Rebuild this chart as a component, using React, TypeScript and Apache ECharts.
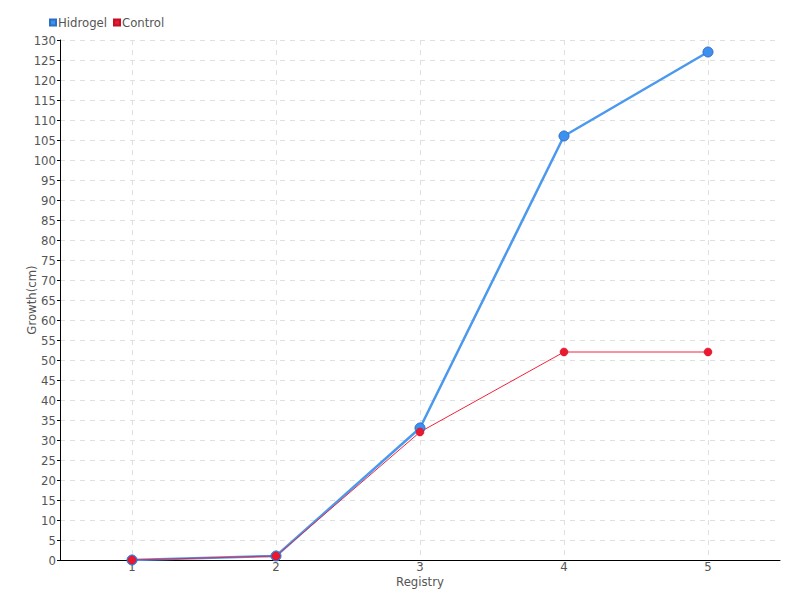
import React, { useEffect, useRef } from "react";
import * as echarts from "echarts";

const categories = ["1", "2", "3", "4", "5"];
const hidrogel = [0, 1, 33, 106, 127];
const control = [0, 1, 32, 52, 52];

const FONT = "'DejaVu Sans Condensed', sans-serif";
const TXT = "#555";

export default function App() {
  const ref = useRef<HTMLDivElement>(null);
  useEffect(() => {
    const chart = echarts.init(ref.current!, null, { renderer: "svg" });
    chart.setOption({
      animation: false,
      textStyle: { fontFamily: FONT },
      legend: {
        left: 44,
        top: 11,
        itemWidth: 6,
        itemHeight: 6,
        itemGap: 6,
        icon: "rect",
        textStyle: { fontFamily: FONT, fontSize: 13, color: TXT, padding: [0, 0, 0, -3] },
        data: ["Hidrogel", "Control"],
      },
      grid: { left: 60, right: 20, top: 40, bottom: 40, containLabel: false },
      xAxis: {
        type: "category",
        data: categories,
        boundaryGap: true,
        name: "Registry",
        nameLocation: "middle",
        nameGap: 21,
        nameMoveOverlap: false,
        nameTextStyle: { fontFamily: FONT, fontSize: 13, color: TXT, verticalAlign: "middle" },
        axisLine: { lineStyle: { color: "#000", width: 1 } },
        axisTick: { alignWithLabel: true, length: 4, lineStyle: { color: "#000" } },
        axisLabel: { fontFamily: FONT, fontSize: 13, color: TXT, margin: 0 },
        splitLine: { show: true, alignWithLabel: true, lineStyle: { color: "#e0e0e0", type: [5, 5] } },
      },
      yAxis: {
        type: "value",
        min: 0,
        max: 130,
        interval: 5,
        name: "Growth(cm)",
        nameLocation: "middle",
        nameGap: 29,
        nameMoveOverlap: false,
        nameTextStyle: { fontFamily: FONT, fontSize: 13, color: TXT, verticalAlign: "middle" },
        axisLine: { show: true, lineStyle: { color: "#000", width: 1 } },
        axisTick: { show: true, length: 3, lineStyle: { color: "#000" } },
        axisLabel: { fontFamily: FONT, fontSize: 13, color: TXT, margin: 4 },
        splitLine: { show: true, lineStyle: { color: "#e0e0e0", type: [5, 5] } },
      },
      series: [
        {
          name: "Hidrogel",
          type: "line",
          data: hidrogel,
          symbol: "circle",
          symbolSize: 10,
          color: "#3d8ff0",
          lineStyle: { width: 2.5, color: "#4a99ef" },
          itemStyle: { color: "#3d8ff0", borderColor: "#2b6fc4", borderWidth: 1 },
        },
        {
          name: "Control",
          type: "line",
          data: control,
          symbol: "circle",
          symbolSize: 8,
          color: "#ee1730",
          lineStyle: { width: 1, color: "#f0243c" },
          itemStyle: { color: "#ee1730", borderColor: "#c01025", borderWidth: 0.5 },
        },
      ],
    });
    return () => chart.dispose();
  }, []);
  return <div ref={ref} style={{ width: 800, height: 600, position: "absolute", left: 0, top: 0 }} />;
}
